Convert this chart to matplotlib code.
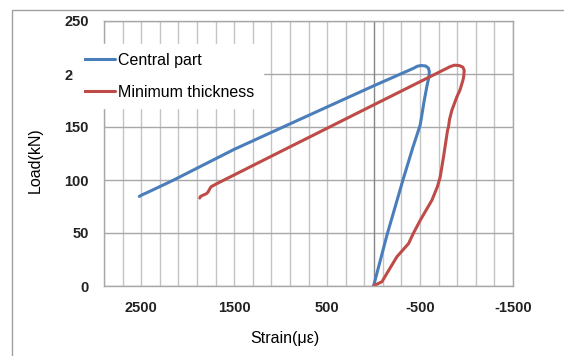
import matplotlib.pyplot as plt
from matplotlib.patches import Rectangle

plt.rcParams['axes.unicode_minus'] = False

# strain (microstrain) and load (kN)
central_strain = [2520, 2490, 2400, 2150, 1500, 1003, 500, 0, -430, -470, -510,
                  -560, -590, -600, -595, -575, -545, -502, -420, -316, -144, 0]
central_load = [84.5, 86, 89.6, 100, 128.9, 148.8, 168.9, 188.8, 205.4, 207.3, 208,
                207.6, 205.5, 202, 197, 189, 175, 152, 130, 100, 48, 0]

minimum_strain = [1870, 1862, 1836, 1800, 1782, 1760, 1747, 1694, 1003, 0, -825, -870,
                  -920, -960, -975, -970, -961, -930, -897, -843, -817, -806, -796,
                  -753, -717, -688, -628, -502, -430, -376, -251, -144, -90, -18, 0]
minimum_load = [83, 84.5, 85.6, 87, 88.5, 92, 93.7, 96.2, 126.7, 170.8, 207, 208.3,
                208, 206.5, 203.5, 198, 194, 185, 178.6, 166, 157, 150, 147,
                122, 103, 94, 81, 62, 50, 40, 27.6, 12, 4, 1, 0]

xtick_values = [2500, 1500, 500, -500, -1500]
ytick_values = [0, 50, 100, 150, 200, 250]

blue = '#4a7ebb'
red = '#be4b48'

fig = plt.figure(figsize=(5.64, 3.56), dpi=100)
ax = fig.add_axes([104 / 564, 1 - 286 / 356, (513 - 104) / 564, (286 - 21) / 356])

ax.plot(central_strain, central_load, color=blue, lw=2.2, label='Central part',
        solid_capstyle='round', solid_joinstyle='round')
ax.plot(minimum_strain, minimum_load, color=red, lw=2.2, label='Minimum thickness',
        solid_capstyle='round', solid_joinstyle='round')

ax.set_xlim(2900, -1500)
ax.set_ylim(0, 250)
ax.set_xticks(xtick_values)
ax.set_xticks(range(-1500, 2901, 200), minor=True)
ax.set_yticks(ytick_values)
ax.grid(True, which='both', axis='x', color='#c4c4c4', lw=1)
ax.grid(True, which='major', axis='y', color='#a8a8a8', lw=1)
ax.axvline(0, color='#858585', lw=1, zorder=1.6)
ax.tick_params(which='both', length=0)
ax.tick_params(axis='x', pad=11)
ax.tick_params(axis='y', pad=11)
for lab in ax.get_xticklabels() + ax.get_yticklabels():
    lab.set_fontfamily('Liberation Sans')
    lab.set_fontweight('bold')
    lab.set_fontsize(10.5)
    lab.set_color('#222222')
for sp in ax.spines.values():
    sp.set_color('#a8a8a8')
    sp.set_linewidth(1)

fig.text(285 / 564, 1 - 338 / 356, 'Strain(με)', ha='center', va='center',
         fontsize=11.5, family='Liberation Sans')
fig.text(35 / 564, 1 - 160 / 356, 'Load(kN)', ha='center', va='center',
         rotation=90, fontsize=11.5, family='Liberation Sans')

leg = ax.legend(loc='upper left', bbox_to_anchor=(73 / 564, 1 - 44 / 356),
                bbox_transform=fig.transFigure, frameon=True, fancybox=False,
                edgecolor='white', framealpha=1, borderaxespad=0, borderpad=0.55,
                handlelength=2.1, handletextpad=0.15, labelspacing=1.05,
                prop={'family': 'Liberation Sans', 'size': 11.5})
leg.set_zorder(10)

# the legend box in the original reaches a little further left, over the tick label
fig.add_artist(Rectangle((73.5 / 564, 1 - 108 / 356), 10 / 564, 62 / 356,
                         transform=fig.transFigure, facecolor='white',
                         edgecolor='none', zorder=5))

fig.add_artist(Rectangle((12 / 564, -0.1), 1.2, 1.1 - 10 / 356,
                         transform=fig.transFigure, fill=False,
                         edgecolor='#a0a0a0', lw=1))

fig.savefig('out.png', dpi=100)
